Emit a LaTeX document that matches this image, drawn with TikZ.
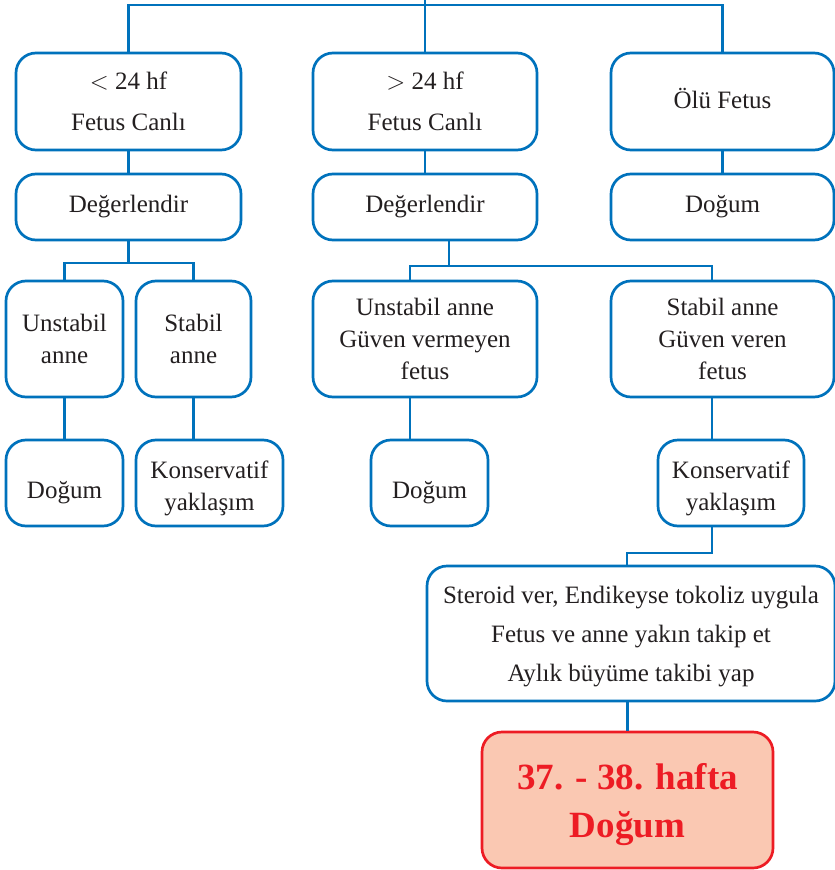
\documentclass[tikz,border=0pt]{standalone}
\usepackage{fontspec}
\setmainfont{Liberation Serif}
\definecolor{cizgi}{RGB}{0,114,188}
\definecolor{kirmizi}{RGB}{237,28,36}
\definecolor{pembe}{RGB}{250,200,178}
\definecolor{yazi}{RGB}{35,31,32}
\tikzset{
  kutu/.style={draw=cizgi, line width=2.7pt, rounded corners=20pt, align=center,
    text=yazi, font=\fontsize{25}{32}\selectfont, inner sep=0pt},
  baglanti/.style={draw=cizgi, line width=2.7pt},
  sonuc/.style={kutu, draw=kirmizi, fill=pembe, text=kirmizi,
    font=\fontsize{37}{48}\selectfont\bfseries}
}
\begin{document}
\begin{tikzpicture}[x=1pt,y=-1pt]
\useasboundingbox (0,0) rectangle (835,870);
% ust sira
\node[kutu, minimum width=225, minimum height=97, font=\fontsize{25}{41}\selectfont] (A) at (128.5,101.5) {$<$ 24 hf\\Fetus Canlı};
\node[kutu, minimum width=224, minimum height=97, font=\fontsize{25}{41}\selectfont] (B) at (425,101.5) {$>$ 24 hf\\Fetus Canlı};
\node[kutu, minimum width=223, minimum height=97, text depth=6pt] (C) at (722.5,101.5) {Ölü Fetus};
\node[kutu, minimum width=225, minimum height=66] (Ad) at (128.5,207) {Değerlendir};
\node[kutu, minimum width=224, minimum height=66] (Bd) at (425,207) {Değerlendir};
\node[kutu, minimum width=223, minimum height=66] (Cd) at (722.5,207) {Doğum};
% anne durumu
\node[kutu, minimum width=117, minimum height=116] (L1) at (64.5,339) {Unstabil\\anne};
\node[kutu, minimum width=115, minimum height=116] (L2) at (193.5,339) {Stabil\\anne};
\node[kutu, minimum width=224, minimum height=116] (M1) at (425,339) {Unstabil anne\\Güven vermeyen\\fetus};
\node[kutu, minimum width=223, minimum height=116] (M2) at (722.5,339) {Stabil anne\\Güven veren\\fetus};
\node[kutu, minimum width=117, minimum height=86, text height=30pt, text depth=0pt] (D1) at (64.5,483) {Doğum};
\node[kutu, minimum width=147, minimum height=86, text height=54pt, text depth=0pt] (K1) at (209.5,483) {Konservatif\\yaklaşım};
\node[kutu, minimum width=117, minimum height=86, text height=30pt, text depth=0pt] (D2) at (429.5,483) {Doğum};
\node[kutu, minimum width=146, minimum height=86, text height=54pt, text depth=0pt] (K2) at (731,483) {Konservatif\\yaklaşım};
\node[kutu, minimum width=408, minimum height=135, font=\fontsize{25}{39}\selectfont, text depth=-8pt] (S) at (631,633.5) {Steroid ver, Endikeyse tokoliz uygula\\Fetus ve anne yakın takip et\\Aylık büyüme takibi yap};
\node[sonuc, minimum width=291, minimum height=136, text depth=-2pt] (F) at (627.5,800) {37. - 38. hafta\\Doğum};
% baglantilar
\coordinate (ust) at (425,0);
\coordinate (bus) at (425,5);
\coordinate (solBus) at (128.5,263);
\coordinate (ortaBus) at (449,266);
\coordinate (sBus) at (627,553);
\draw[baglanti] (A.north) |- (bus) -| (C.north);
\draw[baglanti] (B.north) -- (bus) -- (ust);
\draw[baglanti] (A) -- (Ad);
\draw[baglanti] (B) -- (Bd);
\draw[baglanti] (C) -- (Cd);
\draw[baglanti] (Ad.south) -- (solBus);
\draw[baglanti] (L1.north) |- (solBus) -| (L2.north);
\draw[baglanti] (L1) -- (D1);
\draw[baglanti] (L2.south) -- (L2.south |- K1.north);
\draw[baglanti] ([xshift=24]Bd.south) -- (ortaBus);
\draw[baglanti] ([xshift=-15]M1.north) |- (ortaBus) -| ([xshift=-10.5]M2.north);
\draw[baglanti] ([xshift=-15]M1.south) -- ([xshift=-15]M1.south |- D2.north);
\draw[baglanti] ([xshift=-10.5]M2.south) -- ([xshift=-10.5]M2.south |- K2.north);
\draw[baglanti] ([xshift=-19]K2.south) |- (sBus) -- (sBus |- S.north);
\draw[baglanti] (F.north |- S.south) -- (F.north);
\end{tikzpicture}
\end{document}
